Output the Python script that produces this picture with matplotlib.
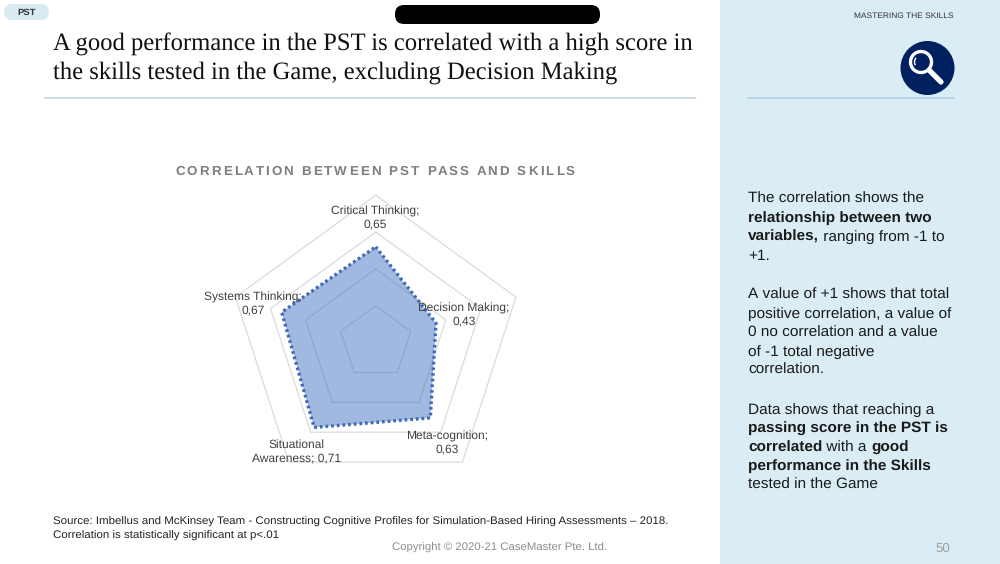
#!/usr/bin/env python3

import numpy as np
import matplotlib
matplotlib.use('Agg')
import matplotlib.pyplot as plt
from matplotlib.patches import Arc, Circle, FancyBboxPatch, Rectangle

# chart values
skills = ['Critical Thinking', 'Decision Making', 'Meta-cognition',
          'Situational Awareness', 'Systems Thinking']
values = [0.65, 0.43, 0.63, 0.71, 0.67]
rings = [0.25, 0.5, 0.75, 1.0]
point_labels = ['Critical Thinking;\n0,65', 'Decision Making;\n0,43', 'Meta-cognition;\n0,63',
                'Situational\nAwareness; 0,71', 'Systems Thinking;\n0,67']

title_lines = ['A good performance in the PST is correlated with a high score in',
               'the skills tested in the Game, excluding Decision Making']
chart_title = 'CORRELATION BETWEEN PST PASS AND SKILLS'
source_lines = ['Source: Imbellus and McKinsey Team - Constructing Cognitive Profiles for Simulation-Based Hiring Assessments – 2018.',
                'Correlation is statistically significant at p<.01']

# side text, each line is a list of (text, is_bold) runs
side_lines = [
    (198, [('The correlation shows the', False)]),
    (217, [('relationship between two', True)]),
    (236, [('variables,', True), (' ranging from -1 to', False)]),
    (255, [('+1.', False)]),
    (294, [('A value of +1 shows that total', False)]),
    (313, [('positive correlation, a value of', False)]),
    (332, [('0 no correlation and a value', False)]),
    (351, [('of -1 total negative', False)]),
    (369, [('correlation.', False)]),
    (409, [('Data shows that reaching a', False)]),
    (428, [('passing score in the PST is', True)]),
    (447, [('correlated', True), (' with a ', False), ('good', True)]),
    (465, [('performance in the Skills', True)]),
    (484, [('tested in the Game', False)]),
]

plt.rcParams['font.family'] = ['Liberation Sans', 'DejaVu Sans']
plt.rcParams['text.hinting'] = 'no_hinting'

W, H = 1000, 564
fig = plt.figure(figsize=(W / 100, H / 100), dpi=100, facecolor='white')
renderer = fig.canvas.get_renderer()

# page layer in pixel coordinates
page = fig.add_axes([0, 0, 1, 1])
page.set_xlim(0, W)
page.set_ylim(H, 0)
page.axis('off')

page.add_patch(Rectangle((720, 0), 280, H, fc='#daedf4', ec='none'))
page.add_patch(FancyBboxPatch((4, 4), 45, 16, boxstyle='round,pad=0,rounding_size=8',
                              fc='#d9eaf3', ec='none'))
page.add_patch(FancyBboxPatch((395, 5), 205, 19, boxstyle='round,pad=0,rounding_size=9',
                              fc='black', ec='none'))
page.text(26.5, 12.8, 'PST', fontsize=6.8, fontweight='bold', color='#333333', ha='center', va='center')

page.text(53, 45, title_lines[0], family='Liberation Serif', fontsize=17.72, color='#111111', va='center')
page.text(53, 72.5, title_lines[1], family='Liberation Serif', fontsize=17.72, color='#111111', va='center')
page.plot([45, 695], [98, 98], color='#c5d6e6', lw=1.2)
page.plot([748, 954], [98, 98], color='#b4d2e4', lw=1.2)

page.text(954, 15.5, 'MASTERING THE SKILLS', fontsize=6.0, color='#333333', ha='right', va='center')

# magnifier icon
page.add_patch(Circle((927.5, 68), 27, fc='#002060', ec='none'))
page.add_patch(Circle((921, 62), 10.5, fc='none', ec='white', lw=2.4))
page.add_patch(Arc((921, 62), 13, 13, theta1=150, theta2=220, color='white', lw=1))
page.plot([929, 941], [70, 82], color='white', lw=3.8, solid_capstyle='round')

# chart title, letter spaced by hand
spacing = 2.1
probe = page.text(0, 0, chart_title, fontsize=9.6, fontweight='bold')
total = probe.get_window_extent(renderer).width + spacing * (len(chart_title) - 1)
probe.remove()
for i, ch in enumerate(chart_title):
    probe = page.text(0, 0, chart_title[:i], fontsize=9.6, fontweight='bold')
    offset = probe.get_window_extent(renderer).width if i else 0
    probe.remove()
    page.text(375 - total / 2 + offset + i * spacing, 171.5, ch, fontsize=9.6, fontweight='bold',
              color='#7f7f7f', va='center')

for i, line in enumerate(source_lines):
    page.text(53, 521.7 + i * 13.8, line, fontsize=8.28, color='#222222', va='center')
page.text(499.5, 547.5, 'Copyright © 2020-21 CaseMaster Pte. Ltd.', fontsize=8.2, color='#8c8c8c', ha='center', va='center')
page.text(943, 548.5, '50', fontsize=9.5, color='#a0a0a0', ha='center', va='center')

# side text, runs placed one after the other
for y, runs in side_lines:
    x = 748
    for txt, is_bold in runs:
        t = page.text(x, y + 1, txt.replace(' ', '\u00a0'), fontsize=11.05, color='#1a1a1a', va='center',
                      fontweight='bold' if is_bold else 'normal')
        x += t.get_window_extent(renderer).width

# radar, centre (375.7, 342.7), outer radius 147.5 px
cx, cy, rad = 375.7, 342.7, 147.5
radar = fig.add_axes([(cx - rad) / W, (H - cy - rad) / H, 2 * rad / W, 2 * rad / H],
                     projection='polar', facecolor='none')
radar.set_theta_zero_location('N')
radar.set_theta_direction(-1)
radar.set_ylim(0, 1)
radar.axis('off')

theta = np.arange(len(skills)) * 2 * np.pi / len(skills)
theta_c = np.append(theta, theta[0])
vals_c = np.append(values, values[0])

for r in rings:
    radar.plot(theta_c, [r] * len(theta_c), color='#dedede', lw=1, zorder=1, clip_on=False)
radar.fill(theta_c, vals_c, color='#4472c4', alpha=0.5, lw=0, zorder=2)
radar.plot(theta_c, vals_c, color='#4068b4', lw=2.4, ls=(0, (0.8, 0.9)), zorder=3, clip_on=False)

# labels sit over the fill
top = fig.add_axes([0, 0, 1, 1], facecolor='none')
top.set_xlim(0, W)
top.set_ylim(H, 0)
top.axis('off')
label_pos = [(375.5, 217.5), (464, 314.5), (447.5, 442.5), (296.5, 451.5), (253, 303.5)]
for (lx, ly), lab in zip(label_pos, point_labels):
    top.text(lx, ly, lab, fontsize=8.65, color='#404040', ha='center', va='center', linespacing=1.2)

fig.savefig('out.png', dpi=100)
